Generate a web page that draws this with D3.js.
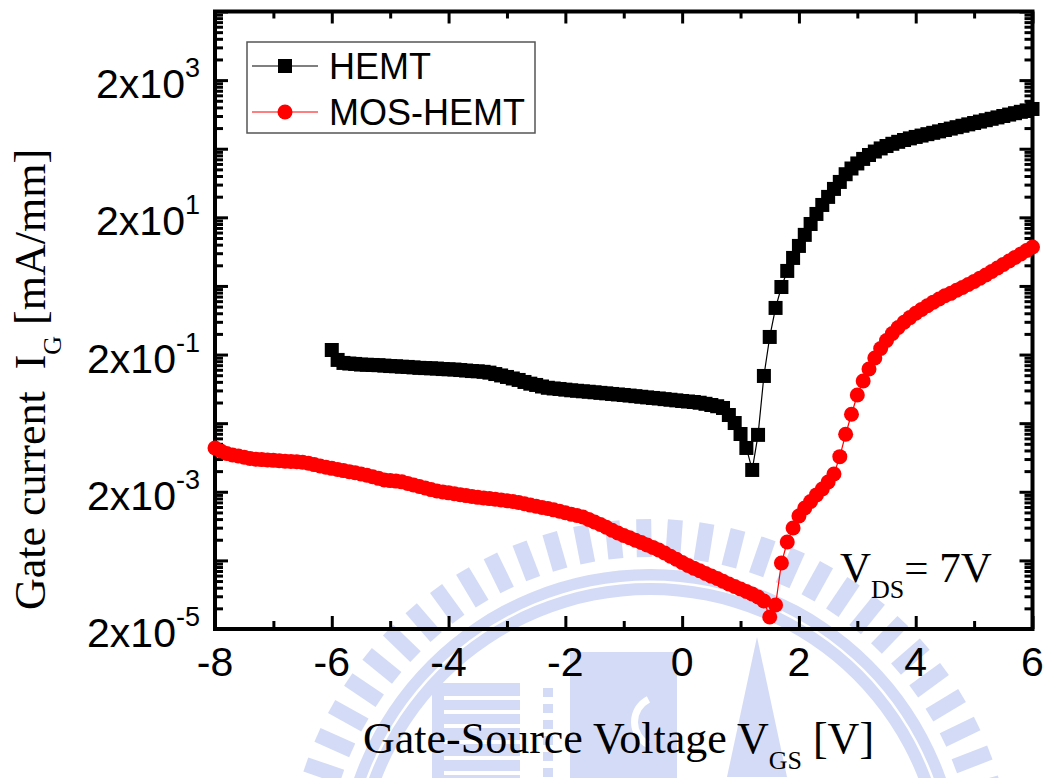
<!DOCTYPE html>
<html>
<head>
<meta charset="utf-8">
<script src="https://cdn.jsdelivr.net/npm/d3@7"></script>
<style>
  body { margin: 0; background: #fff; }
  svg { display: block; }
  text { white-space: pre; }
</style>
</head>
<body>
<svg id="chart" width="1048" height="778"></svg>
<script>
// Gate current vs gate-source voltage, V_DS = 7 V
const hemtVgs = [
  -6.0,-5.9,-5.8,-5.7,-5.6,-5.5,-5.4,-5.3,-5.2,-5.1,
  -5.0,-4.9,-4.8,-4.7,-4.6,-4.5,-4.4,-4.3,-4.2,-4.1,
  -4.0,-3.9,-3.8,-3.7,-3.6,-3.5,-3.4,-3.3,-3.2,-3.1,
  -3.0,-2.9,-2.8,-2.7,-2.6,-2.5,-2.4,-2.3,-2.2,-2.1,
  -2.0,-1.9,-1.8,-1.7,-1.6,-1.5,-1.4,-1.3,-1.2,-1.1,
  -1.0,-0.9,-0.8,-0.7,-0.6,-0.5,-0.4,-0.3,-0.2,-0.1,
  0.0,0.1,0.2,0.3,0.4,0.5,0.6,0.7,0.8,0.9,
  1.0,1.1,1.2,1.3,1.4,1.5,1.6,1.7,1.8,1.9,
  2.0,2.1,2.2,2.3,2.4,2.5,2.6,2.7,2.8,2.9,
  3.0,3.1,3.2,3.3,3.4,3.5,3.6,3.7,3.8,3.9,
  4.0,4.1,4.2,4.3,4.4,4.5,4.6,4.7,4.8,4.9,
  5.0,5.1,5.2,5.3,5.4,5.5,5.6,5.7,5.8,5.9,
  6.0
];
const hemtIg = [
  0.233,0.167,0.151,0.148,0.146,0.143,0.142,0.141,0.140,0.138,
  0.136,0.135,0.133,0.132,0.130,0.128,0.127,0.126,0.125,0.123,
  0.122,0.121,0.119,0.117,0.115,0.114,0.112,0.109,0.104,0.0992,
  0.0943,0.0896,0.0853,0.0797,0.0753,0.0721,0.0685,0.0656,0.0641,0.0630,
  0.0616,0.0603,0.0593,0.0583,0.0574,0.0564,0.0553,0.0544,0.0533,0.0524,
  0.0515,0.0505,0.0495,0.0485,0.0475,0.0466,0.0458,0.0448,0.0439,0.0430,
  0.0421,0.0414,0.0407,0.0397,0.0383,0.0368,0.0353,0.0333,0.0263,0.0201,
  0.0139,0.0087,0.00416,0.0135,0.0975,0.361,0.956,1.93,3.31,5.12,
  7.66,11.1,16.0,22.4,30.3,39.7,51.9,65.6,85.0,103,
  122,142,162,182,202,219,236,252,268,283,
  297,311,326,341,358,375,393,412,432,453,
  474,497,521,546,572,600,629,659,690,724,
  759
];
const mosVgs = [
  -8.0,-7.9,-7.8,-7.7,-7.6,-7.5,-7.4,-7.3,-7.2,-7.1,
  -7.0,-6.9,-6.8,-6.7,-6.6,-6.5,-6.4,-6.3,-6.2,-6.1,
  -6.0,-5.9,-5.8,-5.7,-5.6,-5.5,-5.4,-5.3,-5.2,-5.1,
  -5.0,-4.9,-4.8,-4.7,-4.6,-4.5,-4.4,-4.3,-4.2,-4.1,
  -4.0,-3.9,-3.8,-3.7,-3.6,-3.5,-3.4,-3.3,-3.2,-3.1,
  -3.0,-2.9,-2.8,-2.7,-2.6,-2.5,-2.4,-2.3,-2.2,-2.1,
  -2.0,-1.9,-1.8,-1.7,-1.6,-1.5,-1.4,-1.3,-1.2,-1.1,
  -1.0,-0.9,-0.8,-0.7,-0.6,-0.5,-0.4,-0.3,-0.2,-0.1,
  0.0,0.1,0.2,0.3,0.4,0.5,0.6,0.7,0.8,0.9,
  1.0,1.1,1.2,1.3,1.4,1.5,1.6,1.7,1.8,1.9,
  2.0,2.1,2.2,2.3,2.4,2.5,2.6,2.7,2.8,2.9,
  3.0,3.1,3.2,3.3,3.4,3.5,3.6,3.7,3.8,3.9,
  4.0,4.1,4.2,4.3,4.4,4.5,4.6,4.7,4.8,4.9,
  5.0,5.1,5.2,5.3,5.4,5.5,5.6,5.7,5.8,5.9,
  6.0
];
const mosIg = [
  8.70e-3,7.87e-3,7.23e-3,6.88e-3,6.65e-3,6.39e-3,6.12e-3,5.97e-3,5.89e-3,5.82e-3,
  5.74e-3,5.66e-3,5.59e-3,5.53e-3,5.47e-3,5.40e-3,5.21e-3,4.98e-3,4.75e-3,4.55e-3,
  4.39e-3,4.23e-3,4.07e-3,3.93e-3,3.78e-3,3.64e-3,3.48e-3,3.31e-3,3.14e-3,2.97e-3,
  2.91e-3,2.86e-3,2.79e-3,2.65e-3,2.51e-3,2.39e-3,2.27e-3,2.15e-3,2.05e-3,1.99e-3,
  1.93e-3,1.87e-3,1.81e-3,1.76e-3,1.71e-3,1.66e-3,1.62e-3,1.59e-3,1.56e-3,1.52e-3,
  1.48e-3,1.44e-3,1.39e-3,1.34e-3,1.28e-3,1.23e-3,1.18e-3,1.14e-3,1.09e-3,1.04e-3,
  9.89e-4,9.43e-4,9.00e-4,8.58e-4,7.92e-4,7.26e-4,6.67e-4,6.08e-4,5.51e-4,5.02e-4,
  4.61e-4,4.27e-4,3.94e-4,3.64e-4,3.35e-4,3.09e-4,2.84e-4,2.56e-4,2.30e-4,2.08e-4,
  1.86e-4,1.69e-4,1.54e-4,1.41e-4,1.29e-4,1.18e-4,1.09e-4,9.92e-5,9.06e-5,8.33e-5,
  7.65e-5,7.04e-5,6.47e-5,5.85e-5,5.12e-5,2.99e-5,4.48e-5,1.83e-4,3.71e-4,5.93e-4,
  8.87e-4,1.16e-3,1.44e-3,1.80e-3,2.20e-3,2.78e-3,3.64e-3,6.50e-3,1.38e-2,2.70e-2,
  5.15e-2,8.23e-2,0.123,0.178,0.245,0.321,0.406,0.496,0.591,0.691,
  0.799,0.910,1.03,1.16,1.29,1.44,1.56,1.73,1.90,2.10,
  2.33,2.60,2.89,3.24,3.66,4.12,4.63,5.21,5.85,6.58,
  7.40
];
const xMajorTicks = [-8, -6, -4, -2, 0, 2, 4, 6];
const xMinorTicks = [-7, -5, -3, -1, 1, 3, 5];
const yLabelExponents = [-5, -3, -1, 1, 3];
const yDecadeExponents = [-5, -4, -3, -2, -1, 0, 1, 2, 3, 4];

const sansFont = "'Liberation Sans', Arial, sans-serif";
const serifFont = "'Liberation Serif', 'Times New Roman', serif";

const svg = d3.select("#chart");
const plotLeft = 215, plotRight = 1032.5, plotTop = 11.5, plotBottom = 629;

const x = d3.scaleLinear().domain([-8, 6]).range([plotLeft, plotRight]);
const y = d3.scaleLog().domain([2e-5, 2e4]).range([plotBottom, plotTop]);

// pale seal printed behind the page content
const seal = svg.append("g").attr("fill", "#d3dbf6");
const sealCx = 650, sealCy = 883;
const toothAngles = d3.range(-176, -3, 5);
seal.selectAll("rect.tooth").data(toothAngles).join("rect")
  .attr("class", "tooth")
  .attr("x", 326).attr("y", -7.5).attr("width", 38).attr("height", 15)
  .attr("transform", a => `translate(${sealCx},${sealCy}) rotate(${a})`);
const ringArc = d3.arc().innerRadius(288).outerRadius(314).startAngle(-Math.PI / 2).endAngle(Math.PI / 2);
seal.append("path").attr("d", ringArc()).attr("transform", `translate(${sealCx},${sealCy})`);
seal.append("path")
  .attr("d", d3.arc().innerRadius(300).outerRadius(302.5).startAngle(-Math.PI / 2).endAngle(Math.PI / 2)())
  .attr("transform", `translate(${sealCx},${sealCy})`).attr("fill", "#fff");
// building block with stripes
seal.append("rect").attr("x", 432).attr("y", 683).attr("width", 88).attr("height", 95);
seal.selectAll("rect.stripe").data([696, 710, 724, 740, 756, 771]).join("rect")
  .attr("class", "stripe").attr("x", 444).attr("y", d => d).attr("width", 76).attr("height", 4).attr("fill", "#fff");
seal.selectAll("rect.dot").data([688, 704, 720, 736, 752, 768]).join("rect")
  .attr("class", "dot").attr("x", 543).attr("y", d => d).attr("width", 10).attr("height", 9);
seal.append("rect").attr("x", 570).attr("y", 652).attr("width", 107).attr("height", 126);
seal.append("path")
  .attr("d", d3.arc().innerRadius(22).outerRadius(29).startAngle(Math.PI * 0.15).endAngle(Math.PI * 0.85)())
  .attr("transform", "translate(660,722) rotate(180)").attr("fill", "#fff");
seal.append("path").attr("d", "M727,777 L757,637 L787,777 Z");

function styleAxis(g) {
  g.select(".domain").remove();
  g.selectAll(".tick line").attr("stroke", "#000").attr("stroke-width", 3);
  g.selectAll(".tick text").remove();
}

// tick values on the log axis: majors at 2x10^n, minors at k * 2x10^n
const yMajor = yDecadeExponents.map(n => 2 * Math.pow(10, n));
const yMinor = [];
yDecadeExponents.slice(0, -1).forEach(n => {
  for (let k = 2; k <= 9; k++) yMinor.push(k * 2 * Math.pow(10, n));
});

// bottom / top
svg.append("g").attr("transform", `translate(0,${plotBottom})`)
  .call(d3.axisBottom(x).tickValues(xMajorTicks).tickSize(-13).tickSizeOuter(0)).call(styleAxis);
svg.append("g").attr("transform", `translate(0,${plotBottom})`)
  .call(d3.axisBottom(x).tickValues(xMinorTicks).tickSize(-8).tickSizeOuter(0)).call(styleAxis);
svg.append("g").attr("transform", `translate(0,${plotTop})`)
  .call(d3.axisTop(x).tickValues(xMajorTicks).tickSize(-12).tickSizeOuter(0)).call(styleAxis);
svg.append("g").attr("transform", `translate(0,${plotTop})`)
  .call(d3.axisTop(x).tickValues(xMinorTicks).tickSize(-7).tickSizeOuter(0)).call(styleAxis);
// left / right
svg.append("g").attr("transform", `translate(${plotLeft},0)`)
  .call(d3.axisLeft(y).tickValues(yMajor).tickSize(-13).tickSizeOuter(0)).call(styleAxis);
svg.append("g").attr("transform", `translate(${plotLeft},0)`)
  .call(d3.axisLeft(y).tickValues(yMinor).tickSize(-8).tickSizeOuter(0)).call(styleAxis);
svg.append("g").attr("transform", `translate(${plotRight},0)`)
  .call(d3.axisRight(y).tickValues(yMajor).tickSize(-13).tickSizeOuter(0)).call(styleAxis);
svg.append("g").attr("transform", `translate(${plotRight},0)`)
  .call(d3.axisRight(y).tickValues(yMinor).tickSize(-8).tickSizeOuter(0)).call(styleAxis);

// frame
svg.append("rect")
  .attr("x", plotLeft).attr("y", plotTop)
  .attr("width", plotRight - plotLeft).attr("height", plotBottom - plotTop)
  .attr("fill", "none").attr("stroke", "#000").attr("stroke-width", 4);

// tick labels
svg.append("g").selectAll("text").data(xMajorTicks).join("text")
  .attr("x", d => x(d)).attr("y", plotBottom + 47)
  .attr("text-anchor", "middle")
  .attr("font-family", sansFont).attr("font-size", 41)
  .text(d => d);

const yl = svg.append("g").selectAll("text").data(yLabelExponents).join("text")
  .attr("x", 200).attr("y", d => y(2 * Math.pow(10, d)) + 18)
  .attr("text-anchor", "end")
  .attr("font-family", sansFont).attr("font-size", 41);
yl.append("tspan").text("2x10");
yl.append("tspan").attr("dy", -21).attr("font-size", 27).text(d => d);

// data
const hemt = hemtVgs.map((v, i) => ({ v, i: hemtIg[i] }));
const mos = mosVgs.map((v, i) => ({ v, i: mosIg[i] }));
const line = d3.line().x(d => x(d.v)).y(d => y(d.i));

const plot = svg.append("g");
plot.append("path").datum(hemt).attr("d", line)
  .attr("fill", "none").attr("stroke", "#000").attr("stroke-width", 1.2);
plot.append("path").datum(mos).attr("d", line)
  .attr("fill", "none").attr("stroke", "#ff0000").attr("stroke-width", 1.2);

plot.append("g").selectAll("rect").data(hemt).join("rect")
  .attr("x", d => x(d.v) - 7).attr("y", d => y(d.i) - 7)
  .attr("width", 14).attr("height", 14).attr("fill", "#000");
plot.append("g").selectAll("circle").data(mos).join("circle")
  .attr("cx", d => x(d.v)).attr("cy", d => y(d.i)).attr("r", 7.5)
  .attr("fill", "#ff0000");

// legend
const lg = svg.append("g");
lg.append("rect").attr("x", 247).attr("y", 42).attr("width", 288).attr("height", 91)
  .attr("fill", "#fff").attr("stroke", "#555").attr("stroke-width", 1.5);
const legendItems = [
  { label: "HEMT", color: "#000", shape: "square", cy: 66 },
  { label: "MOS-HEMT", color: "#ff0000", shape: "circle", cy: 112 }
];
legendItems.forEach(it => {
  lg.append("line").attr("x1", 252).attr("x2", 318).attr("y1", it.cy).attr("y2", it.cy)
    .attr("stroke", it.color).attr("stroke-width", 1.2);
  if (it.shape === "square") {
    lg.append("rect").attr("x", 278).attr("y", it.cy - 7).attr("width", 14).attr("height", 14).attr("fill", it.color);
  } else {
    lg.append("circle").attr("cx", 285).attr("cy", it.cy).attr("r", 7.5).attr("fill", it.color);
  }
  lg.append("text").attr("x", 329).attr("y", it.cy + 13)
    .attr("font-family", sansFont).attr("font-size", 36).text(it.label);
});

// V_DS annotation
const ann = svg.append("text").attr("x", 840).attr("y", 582)
  .attr("font-family", serifFont).attr("font-size", 43);
ann.append("tspan").text("V");
ann.append("tspan").attr("dy", 16).attr("font-size", 26).text("DS");
ann.append("tspan").attr("dy", -16).text("= 7V");

// axis titles
const xt = svg.append("text").attr("x", 363).attr("y", 753)
  .attr("font-family", serifFont).attr("font-size", 44);
xt.append("tspan").text("Gate-Source Voltage V");
xt.append("tspan").attr("dy", 16).attr("font-size", 26).text("GS");
xt.append("tspan").attr("dy", -16).text(" [V]");

const yt = svg.append("text").attr("transform", "translate(45,610) rotate(-90)")
  .attr("font-family", serifFont).attr("font-size", 44);
yt.append("tspan").text("Gate current  I");
yt.append("tspan").attr("dy", 16).attr("font-size", 26).text("G");
yt.append("tspan").attr("dy", -16).text(" [mA/mm]");
</script>
</body>
</html>
